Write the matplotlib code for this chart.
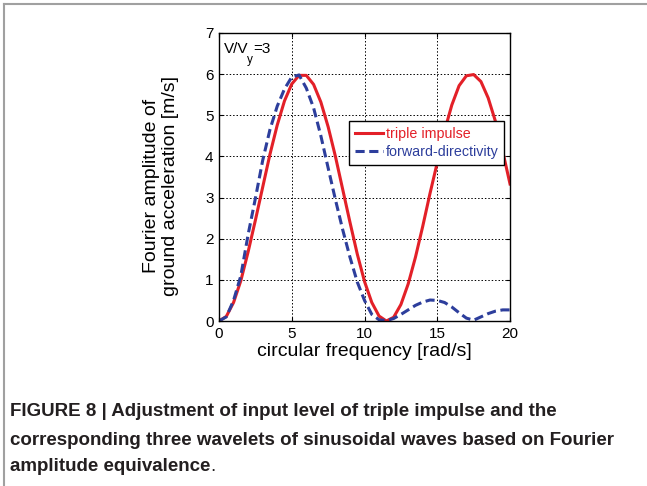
import matplotlib
matplotlib.use("Agg")
import matplotlib.pyplot as plt
from matplotlib.lines import Line2D

plt.rcParams['font.family'] = ['Liberation Sans', 'DejaVu Sans']

# circular frequency [rad/s]
omega = [0.0, 0.5, 1.0, 1.5, 2.0, 2.5, 3.0, 3.5, 4.0, 4.5, 5.0, 5.5, 6.0, 6.5,
         7.0, 7.5, 8.0, 8.5, 9.0, 9.5, 10.0, 10.5, 11.0, 11.5, 12.0, 12.5,
         13.0, 13.5, 14.0, 14.5, 15.0, 15.5, 16.0, 16.5, 17.0, 17.5, 18.0,
         18.5, 19.0, 19.5, 20.0]

triple_impulse = [0.0, 0.11, 0.45, 0.98, 1.68, 2.45, 3.25, 4.05, 4.76, 5.35,
                  5.76, 5.97, 5.97, 5.75, 5.32, 4.72, 4.00, 3.20, 2.40, 1.63,
                  0.96, 0.45, 0.12, 0.0, 0.09, 0.40, 0.90, 1.55, 2.30, 3.10,
                  3.85, 4.62, 5.25, 5.72, 5.96, 5.99, 5.82, 5.42, 4.85, 4.12,
                  3.33]

forward_directivity = [0.0, 0.10, 0.50, 1.10, 2.10, 2.98, 3.90, 4.65, 5.22,
                       5.64, 5.93, 5.98, 5.66, 5.18, 4.50, 3.72, 2.95, 2.22,
                       1.55, 0.95, 0.50, 0.16, 0.03, 0.01, 0.06, 0.16, 0.27,
                       0.38, 0.46, 0.51, 0.50, 0.45, 0.34, 0.20, 0.07, 0.02,
                       0.10, 0.18, 0.24, 0.27, 0.27]

xticks = [0, 5, 10, 15, 20]
yticks = [0, 1, 2, 3, 4, 5, 6, 7]

red = '#E32028'
blue = '#2D3E9C'
W, H = 647, 486

fig = plt.figure(figsize=(6.47, 4.86), dpi=100)
ax = fig.add_axes([0.3385, 0.3395, 0.4498, 0.5926])

ax.plot(omega, triple_impulse, color=red, lw=2.2, label='triple impulse',
        solid_joinstyle='round')
ax.plot(omega, forward_directivity, color=blue, lw=2.2, dashes=(3.0, 1.5),
        label='forward-directivity')

ax.set_xlim(0, 20)
ax.set_ylim(0, 7)
ax.set_xticks(xticks)
ax.set_yticks(yticks)
ax.grid(True, color='black', linestyle=(0, (1.5, 2.0)), linewidth=0.7)
for s in ax.spines.values():
    s.set_linewidth(1.0)
ax.tick_params(direction='in', length=3, width=0.8, top=True, right=True,
               labelsize=11, pad=4)

ax.set_xlabel('circular frequency [rad/s]', fontsize=14, labelpad=2)

# V/Vy=3 annotation (MATLAB-style low subscript)
fig.text(224 / W, 1 - 53 / H, 'V/V', fontsize=11, va='baseline', ha='left')
fig.text(247 / W, 1 - 62.5 / H, 'y', fontsize=8.5, va='baseline', ha='left')
fig.text(253 / W, 1 - 53 / H, '=3', fontsize=11, va='baseline', ha='left')

leg = ax.legend(loc='upper left', bbox_to_anchor=(0.447, 0.694),
                borderaxespad=0, fontsize=10.3, frameon=True, fancybox=False,
                edgecolor='black', framealpha=1, handlelength=2.0,
                handletextpad=0.15, borderpad=0.4, labelspacing=0.3,
                labelcolor='linecolor')
leg.get_frame().set_linewidth(1.0)

fig.text(161 / W, 1 - 186 / H, 'Fourier amplitude of\nground acceleration [m/s]',
         rotation=90, ha='center', va='center', fontsize=14, linespacing=1.2)

# caption
cap_kw = dict(fontsize=13.5, fontweight='bold', color='#231F20', ha='left',
              va='center')
fig.text(10 / W, 1 - 411 / H,
         'FIGURE 8 | Adjustment of input level of triple impulse and the', **cap_kw)
fig.text(10 / W, 1 - 440 / H,
         'corresponding three wavelets of sinusoidal waves based on Fourier', **cap_kw)
t3 = fig.text(10 / W, 1 - 466 / H, 'amplitude equivalence', **cap_kw)
fig.canvas.draw()
bb = t3.get_window_extent()
fig.text(bb.x1 / fig.bbox.width, 1 - 466 / H, '.', fontsize=13.5,
         color='#231F20', ha='left', va='center')

# page frame lines (top and left)
fig.add_artist(Line2D([4 / W, 4 / W], [0, 1 - 4 / H], color='#A0A0A0',
                      lw=1.5, transform=fig.transFigure))
fig.add_artist(Line2D([4 / W, 1], [1 - 4 / H, 1 - 4 / H], color='#A0A0A0',
                      lw=1.5, transform=fig.transFigure))

fig.savefig('out.png', dpi=100)
